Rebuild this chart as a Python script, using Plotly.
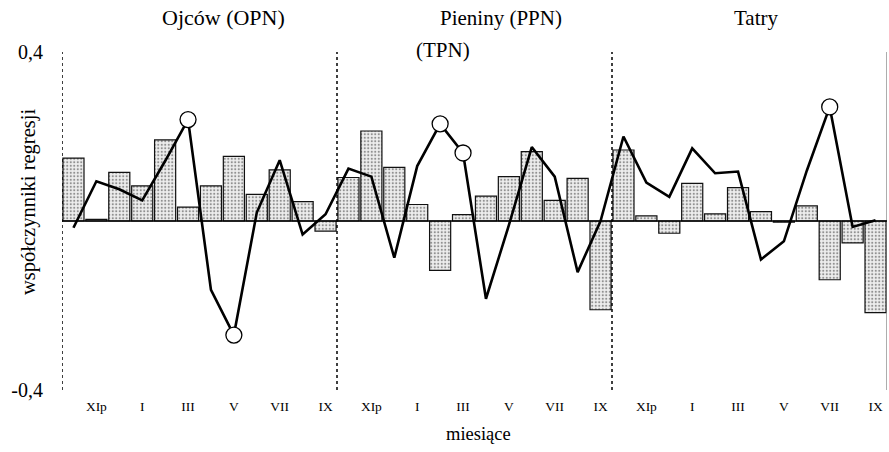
import plotly.graph_objects as go

# ---- data ----
months = ["Xp", "XIp", "XIIp", "I", "II", "III", "IV", "V", "VI", "VII", "VIII", "IX"]
regions = ["Ojców (OPN)", "Pieniny (PPN)", "Tatry"]

bars_ojcow = [0.149, 0.004, 0.115, 0.083, 0.192, 0.033, 0.083, 0.153, 0.063, 0.121, 0.046, -0.024]
bars_pieniny = [0.103, 0.213, 0.127, 0.039, -0.117, 0.015, 0.059, 0.105, 0.164, 0.049, 0.101, -0.210]
bars_tatry = [0.168, 0.012, -0.029, 0.089, 0.017, 0.079, 0.022, -0.003, 0.036, -0.139, -0.052, -0.217]

line_ojcow = [-0.016, 0.094, 0.075, 0.049, 0.142, 0.240, -0.163, -0.270, 0.020, 0.144, -0.032, 0.016]
line_pieniny = [0.124, 0.105, -0.087, 0.130, 0.230, 0.161, -0.184, -0.010, 0.175, 0.105, -0.121, 0.000]
line_tatry = [0.200, 0.091, 0.057, 0.172, 0.113, 0.117, -0.091, -0.048, 0.119, 0.270, -0.014, 0.002]

significant = [5, 7, 16, 17, 33]  # indices of line points marked with circles

tick_months = ["XIp", "I", "III", "V", "VII", "IX"]
ytick_vals = [-0.4, 0.4]
ytick_text = ["-0,4", "0,4"]

# ---- build ----
bars = bars_ojcow + bars_pieniny + bars_tatry
line = line_ojcow + line_pieniny + line_tatry
n = len(bars)
x = list(range(n))
ng = len(months)

tickvals = [g * ng + months.index(m) for g in range(3) for m in tick_months]
ticktext = [m for g in range(3) for m in tick_months]

SERIF = "Liberation Serif, Times New Roman, serif"

fig = go.Figure()
fig.add_trace(go.Bar(
    x=x, y=bars, width=0.92,
    marker=dict(color="#eeeeee",
                line=dict(color="#111", width=1.2),
                pattern=dict(shape=".", fgcolor="#333", bgcolor="#eeeeee",
                             size=3.5, solidity=0.3)),
    showlegend=False, hoverinfo="skip"))
fig.add_trace(go.Scatter(
    x=x, y=line, mode="lines",
    line=dict(color="#000", width=2.6),
    showlegend=False, hoverinfo="skip"))
fig.add_trace(go.Scatter(
    x=[x[i] for i in significant], y=[line[i] for i in significant],
    mode="markers",
    marker=dict(size=16, color="white", line=dict(color="#000", width=1.3)),
    showlegend=False, hoverinfo="skip"))

shapes = []
for g in range(3):
    shapes.append(dict(type="line", xref="x", yref="y", x0=g * ng - 0.5, x1=g * ng - 0.5,
                       y0=-0.4, y1=0.4, line=dict(color="#000", width=1.5, dash="dot")))
shapes.append(dict(type="line", xref="x", yref="y", x0=n - 0.5, x1=n - 0.5,
                   y0=-0.4, y1=0.4, line=dict(color="#777", width=1.2)))
shapes.append(dict(type="line", xref="x", yref="y", x0=-0.5, x1=n - 0.5,
                   y0=0, y1=0, line=dict(color="#000", width=1.6)))

L, R, T, B = 62, 2, 52, 62
W, H = 889, 452
pw, ph = W - L - R, H - T - B

def px(xp):
    return (xp - L) / pw

def py(yp):
    return (H - B - yp) / ph

def ann(text, xp, yp, size, angle=0):
    return dict(text=text, x=px(xp), y=py(yp), xref="paper", yref="paper",
                xanchor="center", yanchor="middle", textangle=angle,
                showarrow=False, font=dict(family=SERIF, size=size, color="#000"))

annotations = [
    ann(regions[0], 223, 18, 22),
    ann(regions[1], 501, 18, 21),
    ann("(TPN)", 443, 50, 21),
    ann(regions[2], 756, 18, 21),
    ann("współczynniki regresji", 28, 202, 20.5, -90),
    ann("miesiące", 478, 434, 18.5),
]

fig.update_layout(
    width=W, height=H, autosize=False,
    margin=dict(l=L, r=R, t=T, b=B, pad=0),
    paper_bgcolor="white", plot_bgcolor="white",
    bargap=0.08,
    shapes=shapes, annotations=annotations,
    xaxis=dict(range=[-0.5, n - 0.5], tickmode="array", tickvals=tickvals, ticktext=ticktext,
               showgrid=False, zeroline=False, showline=False, ticks="",
               tickfont=dict(family=SERIF, size=13.5, color="#000"), ticklabelstandoff=6),
    yaxis=dict(range=[-0.4, 0.4], tickmode="array", tickvals=ytick_vals, ticktext=ytick_text,
               showgrid=False, zeroline=False, showline=False, ticks="",
               tickfont=dict(family=SERIF, size=20, color="#000"), ticklabelstandoff=18),
)

fig.write_html("out.html")
